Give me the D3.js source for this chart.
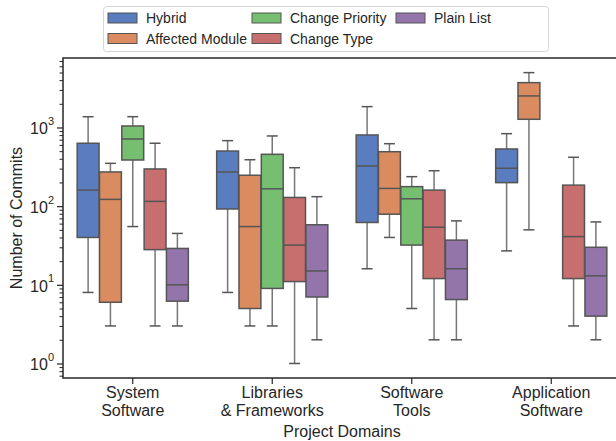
<!DOCTYPE html>
<html>
<head>
<meta charset="utf-8">
<script src="https://cdn.jsdelivr.net/npm/d3@7"></script>
<style>
  body { margin: 0; background: #fff; }
  svg { font-family: "Liberation Sans", Arial, sans-serif; }
  .axis path, .axis line { stroke: #262626; }
  .axis text { fill: #262626; }
</style>
</head>
<body>
<svg width="616" height="441"></svg>
<script>
var domains = ["System\nSoftware", "Libraries\n& Frameworks", "Software\nTools", "Application\nSoftware"];
var methods = ["Hybrid", "Affected Module", "Change Priority", "Change Type", "Plain List"];
var colors = ["#597dbf", "#da8b5f", "#76bf71", "#c76e6e", "#9475ab"];

// [low whisker, q1, median, q3, high whisker] per domain
var hybrid         = [[8, 40, 160, 630, 1370], [8, 92, 272, 502, 680], [16, 62, 324, 803, 1840], [27, 199, 303, 533, 834]];
var affectedModule = [[3, 6, 122, 272, 350], [3, 5, 55, 247, 389], [40, 79, 168, 492, 622], [50, 1271, 2518, 3715, 4980]];
var changePriority = [[55, 386, 714, 1045, 1372], [3, 9, 166, 456, 780], [5, 32, 124, 177, 237], null];
var changeType     = [[3, 28, 115, 297, 630], [1, 11, 32, 129, 308], [2, 12, 54, 160, 282], [3, 12, 41, 185, 418]];
var plainList      = [[3, 6.2, 10, 29, 45], [2, 7, 15, 58, 132], [2, 6.5, 16, 37, 65], [2, 4, 13, 30, 63]];
var series = [hybrid, affectedModule, changePriority, changeType, plainList];

var yTicks = [1, 10, 100, 1000];

var svg = d3.select("svg"),
    margin = {top: 58, left: 63, bottom: 378, right: 621};

var x = d3.scaleBand().domain(domains).range([margin.left, margin.right]).padding(0);
var xh = d3.scaleBand().domain(methods)
    .range([x.bandwidth() * 0.1, x.bandwidth() * 0.9]).padding(0);
var y = d3.scaleLog().domain([0.654, 7640]).range([margin.bottom, margin.top]);

// minor ticks 2..9 for every decade within the domain
var minor = [];
for (var e = -1; e <= 3; e++) {
  for (var m = 2; m <= 9; m++) {
    var v = m * Math.pow(10, e);
    if (v >= y.domain()[0] && v <= y.domain()[1]) minor.push(v);
  }
}

svg.append("g")
    .attr("class", "axis")
    .attr("transform", "translate(" + margin.left + ",0)")
    .call(d3.axisLeft(y).tickValues(minor).tickSize(3.5).tickFormat(""))
    .call(function(g) { g.select(".domain").remove(); })
    .selectAll("line").attr("stroke-width", 1);

var yAxis = svg.append("g")
    .attr("class", "axis")
    .attr("transform", "translate(" + margin.left + ",0)")
    .call(d3.axisLeft(y).tickValues(yTicks).tickSize(6).tickPadding(3).tickFormat(""));
yAxis.select(".domain").remove();
yAxis.selectAll(".tick line").attr("stroke-width", 1.2);
yAxis.selectAll(".tick text")
    .attr("font-size", 16)
    .attr("dy", "0.4em")
    .each(function(d) {
      var t = d3.select(this);
      t.text("10");
      t.append("tspan")
          .attr("font-size", 11)
          .attr("dy", "-0.85em")
          .text(Math.round(Math.log10(d)));
    });

var xAxis = svg.append("g")
    .attr("class", "axis")
    .attr("transform", "translate(0," + margin.bottom + ")")
    .call(d3.axisBottom(x).tickSize(6).tickFormat(""));
xAxis.select(".domain").remove();
xAxis.selectAll(".tick line").attr("stroke-width", 1.2);
xAxis.selectAll(".tick").each(function(d) {
  var t = d3.select(this).append("text")
      .attr("fill", "#262626")
      .attr("font-size", 16)
      .attr("text-anchor", "middle");
  d.split("\n").forEach(function(line, i) {
    t.append("tspan").attr("x", 0).attr("y", 20 + i * 18).text(line);
  });
});

// frame
svg.append("rect")
    .attr("x", margin.left)
    .attr("y", margin.top)
    .attr("width", margin.right - margin.left)
    .attr("height", margin.bottom - margin.top)
    .attr("fill", "none")
    .attr("stroke", "#262626")
    .attr("stroke-width", 1.5);

var boxW = xh.bandwidth() * 0.98;
var lineColor = "#555555",
    whiskerColor = "#777777";

methods.forEach(function(method, mi) {
  series[mi].forEach(function(s, di) {
    if (!s) return;
    var cx = x(domains[di]) + xh(method) + xh.bandwidth() / 2;
    var g = svg.append("g").attr("class", "box");
    // whiskers
    g.append("line").attr("x1", cx).attr("x2", cx).attr("y1", y(s[0])).attr("y2", y(s[1]))
        .attr("stroke", whiskerColor);
    g.append("line").attr("x1", cx).attr("x2", cx).attr("y1", y(s[3])).attr("y2", y(s[4]))
        .attr("stroke", whiskerColor);
    // caps
    g.append("line").attr("x1", cx - boxW / 4).attr("x2", cx + boxW / 4).attr("y1", y(s[0])).attr("y2", y(s[0]))
        .attr("stroke", lineColor);
    g.append("line").attr("x1", cx - boxW / 4).attr("x2", cx + boxW / 4).attr("y1", y(s[4])).attr("y2", y(s[4]))
        .attr("stroke", lineColor);
    g.selectAll("line").attr("stroke-width", 1.5);
    g.append("rect")
        .attr("x", cx - boxW / 2)
        .attr("y", y(s[3]))
        .attr("width", boxW)
        .attr("height", y(s[1]) - y(s[3]))
        .attr("fill", colors[mi])
        .attr("stroke", lineColor)
        .attr("stroke-width", 1.5);
    g.append("line")
        .attr("x1", cx - boxW / 2).attr("x2", cx + boxW / 2)
        .attr("y1", y(s[2])).attr("y2", y(s[2]))
        .attr("stroke", lineColor).attr("stroke-width", 1.5);
  });
});

// axis titles
svg.append("text")
    .attr("x", (margin.left + margin.right) / 2)
    .attr("y", 437)
    .attr("text-anchor", "middle")
    .attr("font-size", 16)
    .attr("fill", "#262626")
    .text("Project Domains");

svg.append("text")
    .attr("transform", "translate(22," + (margin.top + margin.bottom) / 2 + ") rotate(-90)")
    .attr("text-anchor", "middle")
    .attr("font-size", 16)
    .attr("fill", "#262626")
    .text("Number of Commits");

// legend
var legend = svg.append("g").attr("class", "legend");
legend.append("rect")
    .attr("x", 103.5).attr("y", 6.5)
    .attr("width", 445).attr("height", 45)
    .attr("rx", 3)
    .attr("fill", "#fff")
    .attr("stroke", "#d6d6d6");

methods.forEach(function(method, i) {
  var col = Math.floor(i / 2), row = i % 2;
  var lx = 108 + col * 144, ly = 13 + row * 20.5;
  legend.append("rect")
      .attr("x", lx).attr("y", ly)
      .attr("width", 29).attr("height", 10)
      .attr("fill", colors[i])
      .attr("stroke", lineColor)
      .attr("stroke-width", 1);
  legend.append("text")
      .attr("x", lx + 38).attr("y", ly + 10)
      .attr("font-size", 14)
      .attr("fill", "#262626")
      .text(method);
});
</script>
</body>
</html>
